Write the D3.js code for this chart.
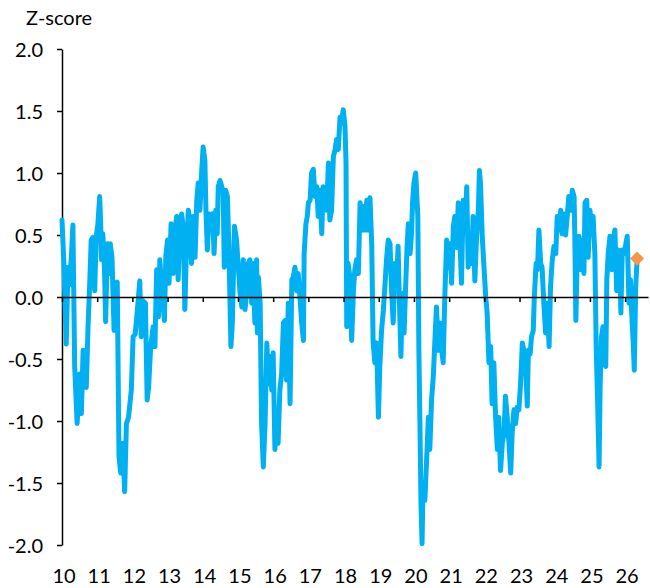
<!DOCTYPE html>
<html>
<head>
<meta charset="utf-8">
<script src="https://cdn.jsdelivr.net/npm/d3@7"></script>
<style>
  body { margin: 0; background: #fff; }
  text { font-family: Lato, "Noto Sans", sans-serif; }
</style>
</head>
<body>
<div id="chart"></div>
<script>
// dates as decimal years
const dates = [
  2010.00, 2010.05, 2010.12, 2010.17, 2010.22, 2010.27, 2010.31, 2010.36, 2010.43, 2010.50,
  2010.55, 2010.60, 2010.65, 2010.69, 2010.74, 2010.79, 2010.83, 2010.88, 2010.93, 2010.97,
  2011.02, 2011.07, 2011.10, 2011.12, 2011.16, 2011.21, 2011.24, 2011.29, 2011.33, 2011.37,
  2011.42, 2011.48, 2011.51, 2011.57, 2011.62, 2011.67, 2011.73, 2011.78, 2011.83, 2011.89,
  2011.97, 2012.02, 2012.08, 2012.14, 2012.21, 2012.25, 2012.30, 2012.37, 2012.42, 2012.46,
  2012.52, 2012.59, 2012.64, 2012.69, 2012.74, 2012.78, 2012.83, 2012.91, 2012.95, 2013.00,
  2013.04, 2013.10, 2013.16, 2013.21, 2013.26, 2013.30, 2013.35, 2013.40, 2013.45, 2013.49,
  2013.54, 2013.59, 2013.64, 2013.68, 2013.73, 2013.78, 2013.83, 2013.87, 2013.92, 2013.97,
  2014.01, 2014.06, 2014.09, 2014.13, 2014.18, 2014.23, 2014.28, 2014.32, 2014.37, 2014.41,
  2014.44, 2014.49, 2014.54, 2014.58, 2014.61, 2014.65, 2014.70, 2014.74, 2014.80, 2014.84,
  2014.90, 2014.96, 2015.01, 2015.06, 2015.11, 2015.15, 2015.20, 2015.25, 2015.29, 2015.34,
  2015.39, 2015.43, 2015.48, 2015.53, 2015.55, 2015.58, 2015.63, 2015.67, 2015.72, 2015.77,
  2015.82, 2015.86, 2015.91, 2015.96, 2016.00, 2016.05, 2016.10, 2016.14, 2016.19, 2016.24,
  2016.29, 2016.34, 2016.38, 2016.43, 2016.48, 2016.53, 2016.57, 2016.62, 2016.67, 2016.71,
  2016.76, 2016.81, 2016.86, 2016.88, 2016.93, 2016.97, 2017.00, 2017.05, 2017.09, 2017.14,
  2017.19, 2017.24, 2017.28, 2017.33, 2017.38, 2017.42, 2017.47, 2017.52, 2017.57, 2017.61,
  2017.66, 2017.71, 2017.76, 2017.80, 2017.85, 2017.90, 2017.94, 2017.99, 2018.04, 2018.07,
  2018.09, 2018.13, 2018.18, 2018.23, 2018.28, 2018.32, 2018.37, 2018.42, 2018.47, 2018.51,
  2018.56, 2018.61, 2018.66, 2018.70, 2018.75, 2018.80, 2018.84, 2018.89, 2018.94, 2018.99,
  2019.03, 2019.08, 2019.13, 2019.18, 2019.22, 2019.27, 2019.32, 2019.36, 2019.41, 2019.46,
  2019.51, 2019.55, 2019.58, 2019.63, 2019.67, 2019.72, 2019.76, 2019.80, 2019.84, 2019.89,
  2019.93, 2019.96, 2020.00, 2020.05, 2020.11, 2020.14, 2020.17, 2020.20, 2020.23, 2020.26,
  2020.31, 2020.36, 2020.41, 2020.45, 2020.50, 2020.55, 2020.60, 2020.64, 2020.69, 2020.74,
  2020.79, 2020.83, 2020.88, 2020.93, 2020.97, 2021.02, 2021.07, 2021.12, 2021.16, 2021.21,
  2021.26, 2021.31, 2021.35, 2021.40, 2021.45, 2021.50, 2021.54, 2021.59, 2021.64, 2021.68,
  2021.73, 2021.78, 2021.83, 2021.86, 2021.89, 2021.94, 2021.99, 2022.04, 2022.08, 2022.13,
  2022.18, 2022.22, 2022.27, 2022.32, 2022.37, 2022.41, 2022.46, 2022.51, 2022.56, 2022.60,
  2022.65, 2022.70, 2022.75, 2022.79, 2022.84, 2022.89, 2022.93, 2022.98, 2023.03, 2023.08,
  2023.12, 2023.17, 2023.22, 2023.25, 2023.30, 2023.34, 2023.39, 2023.42, 2023.47, 2023.51,
  2023.55, 2023.60, 2023.64, 2023.69, 2023.74, 2023.79, 2023.84, 2023.88, 2023.93, 2023.98,
  2024.03, 2024.07, 2024.12, 2024.17, 2024.21, 2024.26, 2024.31, 2024.36, 2024.40, 2024.45,
  2024.50, 2024.55, 2024.57, 2024.60, 2024.64, 2024.69, 2024.74, 2024.78, 2024.83, 2024.86,
  2024.91, 2024.95, 2025.00, 2025.05, 2025.09, 2025.14, 2025.18, 2025.22, 2025.26, 2025.29,
  2025.33, 2025.37, 2025.41, 2025.45, 2025.48, 2025.52, 2025.57, 2025.62, 2025.66, 2025.71,
  2025.76, 2025.80, 2025.85, 2025.88, 2025.92, 2025.97, 2026.01, 2026.06, 2026.11, 2026.15,
  2026.20, 2026.23, 2026.26, 2026.30, 2026.34
]

const zScore = [
  0.62, 0.30, -0.38, 0.24, 0.10, 0.35, 0.58, -0.56, -1.02, -0.62,
  -0.94, -0.43, -0.60, -0.73, -0.24, 0.13, 0.46, 0.48, 0.05, 0.48,
  0.59, 0.81, 0.59, 0.30, 0.51, 0.20, -0.20, 0.43, 0.19, 0.43,
  0.32, -0.27, 0.00, 0.12, -1.29, -1.42, -1.18, -1.57, -1.02, -0.97,
  -0.75, -0.32, -0.30, -0.11, 0.13, -0.32, -0.03, -0.05, -0.83, -0.73,
  -0.40, -0.24, -0.40, 0.22, -0.16, 0.30, 0.08, -0.19, 0.33, 0.46,
  0.11, 0.59, 0.19, 0.54, 0.65, 0.14, 0.54, 0.67, 0.54, -0.10,
  0.43, 0.70, 0.59, 0.27, 0.65, 0.32, 0.78, 0.92, 0.70, 1.02,
  1.21, 1.10, 0.70, 0.38, 0.67, 0.62, 0.67, 0.35, 0.70, 0.51,
  0.89, 0.94, 0.89, 0.84, 0.24, 0.86, 0.81, 0.41, -0.40, -0.21,
  0.57, 0.46, 0.24, 0.03, -0.08, 0.30, -0.10, 0.05, 0.27, 0.30,
  -0.05, 0.27, -0.21, 0.30, -0.29, 0.16, -0.05, -1.02, -1.37, -1.02,
  -0.37, -0.70, -0.48, -0.75, -0.45, -1.23, -0.91, -1.18, -0.75, -0.62,
  -0.21, -0.19, -0.67, -0.05, -0.86, 0.14, 0.16, 0.24, 0.05, 0.19,
  0.00, -0.21, -0.35, 0.35, 0.59, 0.65, 0.76, 0.78, 1.00, 1.03,
  0.81, 0.89, 0.65, 0.86, 0.51, 0.89, 0.78, 0.70, 1.08, 0.62,
  0.70, 1.13, 1.19, 1.27, 1.19, 1.45, 1.40, 1.51, 1.38, 1.08,
  -0.24, 0.27, 0.16, -0.35, 0.05, 0.22, 0.30, 0.19, 0.76, 0.54,
  0.73, 0.54, 0.78, 0.54, 0.80, 0.43, -0.37, -0.53, -0.37, -0.97,
  -0.56, -0.27, -0.11, 0.11, 0.30, 0.46, 0.43, 0.08, -0.21, 0.27,
  0.13, 0.41, 0.03, -0.48, 0.03, -0.29, 0.05, 0.38, 0.59, 0.35,
  0.51, 0.76, 0.92, 1.00, 0.65, -0.43, -1.02, -1.66, -1.99, -1.50,
  -1.64, -1.31, -0.97, -1.23, -0.83, -0.64, -0.32, -0.08, -0.43, -0.21,
  -0.43, -0.53, 0.03, 0.46, 0.24, 0.43, 0.11, 0.57, 0.65, 0.40,
  0.76, 0.43, 0.11, 0.78, 0.54, 0.89, 0.24, 0.51, 0.27, 0.65,
  0.13, 0.49, 0.70, 1.02, 0.92, 0.49, 0.24, 0.00, -0.13, -0.53,
  -0.40, -0.86, -0.53, -0.97, -1.23, -0.97, -1.40, -1.18, -1.10, -0.80,
  -0.97, -1.18, -1.42, -1.10, -0.91, -1.02, -0.89, -0.91, -0.70, -0.37,
  -0.43, -0.53, -0.88, -0.43, -0.46, -0.32, -0.27, 0.00, 0.27, 0.22,
  0.54, 0.27, 0.24, -0.05, -0.29, -0.05, -0.40, 0.08, 0.30, 0.41,
  0.35, 0.65, 0.54, 0.70, 0.51, 0.67, 0.50, 0.67, 0.81, 0.70,
  0.86, 0.81, 0.49, -0.19, 0.35, 0.49, 0.22, 0.46, 0.19, 0.76,
  0.78, 0.32, 0.70, 0.59, 0.65, 0.35, -0.43, -0.86, -1.37, -0.72,
  -0.32, -0.24, -0.53, -0.56, 0.14, 0.35, 0.49, 0.22, 0.46, 0.54,
  0.05, 0.38, 0.22, -0.13, 0.38, 0.35, 0.41, 0.49, -0.05, 0.14,
  -0.21, -0.37, -0.59, 0.08, 0.30
]

// latest reading (orange diamond)
const latest = [2026.34, 0.31]

const yearTicks = d3.range(2010, 2027)
const tickLabels = ['10', '11', '12', '13', '14', '15', '16', '17', '18', '19', '20', '21', '22', '23', '24', '25', '26']
const yTicks = [-2, -1.5, -1, -0.5, 0, 0.5, 1, 1.5, 2]

const w = 650
const h = 588

const data = dates.map((d, i) => ({ t: d, v: zScore[i] }))

const xScale = d3.scaleLinear()
                .domain([2010, 2026.65])
                .range([62, 648])

const yScale = d3.scaleLinear()
                .domain([-2, 2])
                .range([545, 49])

const svg = d3.select('#chart')
            .append('svg')
            .attr('width', w)
            .attr('height', h)

svg.append('text')
    .attr('x', 26)
    .attr('y', 25)
    .style('font-size', '20px')
    .attr('fill', '#000')
    .text('Z-score')

// y axis
const yAxis = d3.axisLeft(yScale)
                .tickValues(yTicks)
                .tickSize(5)
                .tickSizeOuter(0)
                .tickPadding(14)
                .tickFormat(d => d.toFixed(1))

const gy = svg.append('g')
    .attr('transform', `translate(62, 0)`)
    .call(yAxis)

gy.selectAll('text').style('font-size', '20px').attr('fill', '#000').attr('dy', '0.35em')
gy.selectAll('line, path').attr('stroke', '#000').attr('stroke-width', 1.5)

// line
const line = d3.line()
              .x(d => xScale(d.t))
              .y(d => yScale(d.v))

svg.append('path')
    .datum(data)
    .attr('fill', 'none')
    .attr('stroke', '#00B0F0')
    .attr('stroke-width', 5)
    .attr('stroke-linejoin', 'round')
    .attr('stroke-linecap', 'round')
    .attr('d', line)

// zero line with year ticks
const xAxis = d3.axisBottom(xScale)
                .tickValues(yearTicks)
                .tickSize(5)
                .tickSizeOuter(0)
                .tickFormat('')

const gx = svg.append('g')
    .attr('transform', `translate(0, ${yScale(0)})`)
    .call(xAxis)

gx.selectAll('line, path').attr('stroke', '#000').attr('stroke-width', 1.5)

// year labels along the bottom
svg.selectAll('.yearLabel')
    .data(tickLabels)
    .enter()
    .append('text')
    .attr('class', 'yearLabel')
    .attr('x', (d, i) => xScale(yearTicks[i]) + 2)
    .attr('y', 583)
    .attr('text-anchor', 'middle')
    .style('font-size', '20px')
    .attr('fill', '#000')
    .text(d => d)

svg.append('path')
    .attr('d', d3.symbol(d3.symbolSquare, 100)())
    .attr('transform', `translate(${xScale(latest[0])}, ${yScale(latest[1])}) rotate(45)`)
    .attr('fill', '#F79646')
</script>
</body>
</html>
